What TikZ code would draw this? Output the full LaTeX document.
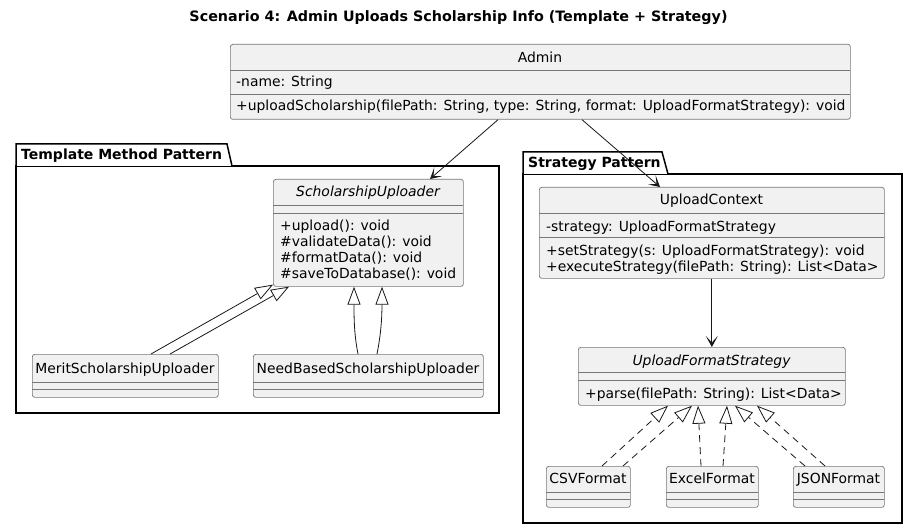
\documentclass[tikz,border=0pt]{standalone}
\usepackage{fontspec}
\setmainfont{DejaVu Sans}
\usetikzlibrary{arrows.meta}
\definecolor{clsfill}{HTML}{F1F1F1}
\definecolor{clsline}{HTML}{767676}
\definecolor{arrline}{HTML}{181818}
\begin{document}
\begin{tikzpicture}[x=1pt,y=-1pt,
  cls/.style={draw=clsline, line width=0.7pt, fill=clsfill, rounded corners=2.5pt, inner sep=0pt, anchor=north west},
  sepl/.style={draw=clsline, line width=0.7pt},
  pkg/.style={draw=black, line width=1.5pt, fill=white},
  txt/.style={inner sep=0pt, font=\fontsize{13.9}{16}\selectfont, anchor=base west},
  ctxt/.style={inner sep=0pt, font=\fontsize{13.9}{16}\selectfont, anchor=base},
  itxt/.style={inner sep=0pt, font=\fontsize{13.9}{16}\selectfont\itshape, anchor=base},
  pkgtxt/.style={inner sep=0pt, font=\fontsize{14}{16}\selectfont\bfseries, anchor=base west},
  assoc/.style={draw=arrline, line width=0.8pt, -{Stealth[length=11pt,width=12pt,inset=6.5pt]}},
  inh/.style={draw=arrline, line width=0.8pt, -{Triangle[open,length=18pt,width=13pt,fill=white]}},
  real/.style={inh, dash pattern=on 7pt off 5pt},
]
\fill[white] (0,0) rectangle (917,529);
\useasboundingbox (0,0) rectangle (917,529);

% title
\node[inner sep=0pt, font=\fontsize{14.3}{16}\selectfont\bfseries, anchor=base] (title) at (458.5,22) {Scenario 4: Admin Uploads Scholarship Info (Template + Strategy)};

% packages
\draw[pkg] (16,166) rectangle (499,413);
\draw[pkg] (16,166) -- (16,144) -- (227,144) -- (232,166);
\node[pkgtxt] (tmplbl) at (21,160) {Template Method Pattern};
\draw[pkg] (523,174) rectangle (902,523);
\draw[pkg] (523,174) -- (523,152) -- (662,152) -- (668,174);
\node[pkgtxt] (stlbl) at (528,168) {Strategy Pattern};

% Admin
\node[cls, minimum width=620pt, minimum height=75pt] (admin) at (230,44) {};
\draw[sepl] (230,70) -- (850,70);
\draw[sepl] (230,94) -- (850,94);
\node[ctxt] (adminN) at (540,63) {Admin};
\node[txt] (adminA) at (236,87) {-name: String};
\node[txt] (adminM) at (236,111) {+uploadScholarship(filePath: String, type: String, format: UploadFormatStrategy): void};

% ScholarshipUploader
\node[cls, minimum width=190pt, minimum height=107pt] (su) at (273,179) {};
\draw[sepl] (273,205) -- (463,205);
\draw[sepl] (273,213) -- (463,213);
\node[itxt] (suN) at (368,197) {ScholarshipUploader};
\node[txt] (suM1) at (280,230) {+upload(): void};
\node[txt] (suM2) at (280,246) {\#validateData(): void};
\node[txt] (suM3) at (280,262) {\#formatData(): void};
\node[txt] (suM4) at (280,278) {\#saveToDatabase(): void};

% Merit
\node[cls, minimum width=186pt, minimum height=43pt] (merit) at (32,354) {};
\draw[sepl] (32,382) -- (218,382);
\draw[sepl] (32,389) -- (218,389);
\node[ctxt] (meritN) at (125,373) {MeritScholarshipUploader};

% NeedBased
\node[cls, minimum width=230pt, minimum height=43pt] (need) at (253,354) {};
\draw[sepl] (253,382) -- (483,382);
\draw[sepl] (253,389) -- (483,389);
\node[ctxt] (needN) at (368,373) {NeedBasedScholarshipUploader};

% UploadContext
\node[cls, minimum width=345pt, minimum height=91pt] (uc) at (539,187) {};
\draw[sepl] (539,213) -- (884,213);
\draw[sepl] (539,237) -- (884,237);
\node[ctxt] (ucN) at (711.5,205) {UploadContext};
\node[txt] (ucA) at (546,231) {-strategy: UploadFormatStrategy};
\node[txt] (ucM1) at (546,255) {+setStrategy(s: UploadFormatStrategy): void};
\node[txt] (ucM2) at (546,271) {+executeStrategy(filePath: String): List<Data>};

% UploadFormatStrategy
\node[cls, minimum width=267pt, minimum height=58pt] (ufs) at (578,347) {};
\draw[sepl] (578,372) -- (845,372);
\draw[sepl] (578,380) -- (845,380);
\node[itxt] (ufsN) at (711.5,365) {UploadFormatStrategy};
\node[txt] (ufsM) at (585,398) {+parse(filePath: String): List<Data>};

% concrete formats
\node[cls, minimum width=84pt, minimum height=41pt] (csv) at (546,466) {};
\draw[sepl] (546,492) -- (630,492);
\draw[sepl] (546,499) -- (630,499);
\node[ctxt] (csvN) at (588,483) {CSVFormat};

\node[cls, minimum width=92pt, minimum height=41pt] (excel) at (666,466) {};
\draw[sepl] (666,492) -- (758,492);
\draw[sepl] (666,499) -- (758,499);
\node[ctxt] (excelN) at (712,483) {ExcelFormat};

\node[cls, minimum width=91pt, minimum height=41pt] (json) at (793,466) {};
\draw[sepl] (793,492) -- (884,492);
\draw[sepl] (793,499) -- (884,499);
\node[ctxt] (jsonN) at (838.5,483) {JSONFormat};

% connectors
\draw[assoc] ([xshift=268pt]admin.south west) -- ([xshift=157pt]su.north west);
\draw[assoc] ([xshift=352pt]admin.south west) -- ([xshift=121pt]uc.north west);
\draw[assoc] (uc.south) -- (ufs.north);

\draw[inh] ([xshift=119pt]merit.north west) -- ([xshift=0pt,yshift=2pt]su.south west);
\draw[inh] ([xshift=138pt]merit.north west) -- ([xshift=16pt]su.south west);
\draw[inh] ([xshift=105pt]need.north west) .. controls +(-4,-20) and +(0,30) .. ([xshift=81pt]su.south west);
\draw[inh] ([xshift=124pt]need.north west) .. controls +(4,-20) and +(0,30) .. ([xshift=109pt]su.south west);

\draw[real] ([xshift=56pt]csv.north west) -- ([xshift=90pt]ufs.south west);
\draw[real] ([xshift=77pt]csv.north west) -- ([xshift=114pt]ufs.south west);
\draw[real] ([xshift=35pt]excel.north west) -- ([xshift=120pt]ufs.south west);
\draw[real] ([xshift=57pt]excel.north west) -- ([xshift=149pt]ufs.south west);
\draw[real] ([xshift=12pt]json.north west) -- ([xshift=157pt]ufs.south west);
\draw[real] ([xshift=32pt]json.north west) -- ([xshift=179pt]ufs.south west);
\end{tikzpicture}
\end{document}
